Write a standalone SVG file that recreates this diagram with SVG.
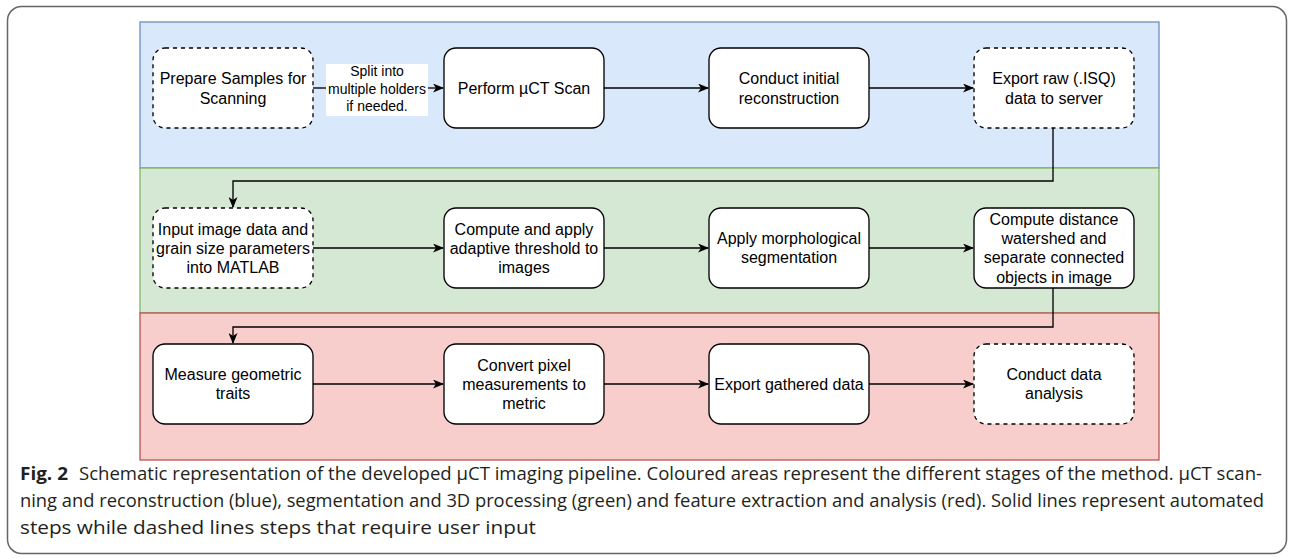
<svg xmlns="http://www.w3.org/2000/svg" width="1290" height="558" viewBox="0 0 1290 558">
  <style>
    .frame { fill: #ffffff; stroke: #666666; stroke-width: 1.5; }
    .band-blue { fill: #dae8fc; stroke: #6c8ebf; stroke-width: 1.3; }
    .band-green { fill: #d5e8d4; stroke: #82b366; stroke-width: 1.3; }
    .band-red { fill: #f8cecc; stroke: #b85450; stroke-width: 1.3; }
    .box { fill: #ffffff; stroke: #000000; stroke-width: 1.33; }
    .dashed { stroke-dasharray: 4 4; }
    .t { font-family: "Liberation Sans", Arial, sans-serif; font-size: 16px; fill: #000000; text-anchor: middle; }
    .lbl { font-family: "Liberation Sans", Arial, sans-serif; font-size: 14px; fill: #000000; text-anchor: middle; }
    .edge { fill: none; stroke: #000000; stroke-width: 1.33; }
    .cap { font-family: "Open Sans", "Noto Sans", sans-serif; font-size: 18px; fill: #231f20; }
    .capb { font-family: "Open Sans", "Noto Sans", sans-serif; font-size: 18px; font-weight: bold; fill: #231f20; }
  </style>
  <defs>
    <marker id="arr" markerWidth="11" markerHeight="9" refX="10" refY="4.5" orient="auto" markerUnits="userSpaceOnUse">
      <path d="M0,0 L11,4.5 L0,9 L3,4.5 Z" fill="#000000"/>
    </marker>
  </defs>

  <rect class="frame" x="7.5" y="6.5" width="1279" height="547" rx="14"/>

  <g id="bands">
    <rect class="band-blue" x="140" y="22" width="1019" height="146"/>
    <rect class="band-green" x="140" y="168" width="1019" height="145"/>
    <rect class="band-red" x="140" y="313" width="1019" height="147"/>
  </g>

  <g id="connectors">
    <path class="edge" d="M313,88 H326"/>
    <path class="edge" d="M428,88 H443" marker-end="url(#arr)"/>
    <path class="edge" d="M604,88 H708" marker-end="url(#arr)"/>
    <path class="edge" d="M869,88 H973" marker-end="url(#arr)"/>
    <path class="edge" d="M1053,128 V181 H233 V207" marker-end="url(#arr)"/>
    <path class="edge" d="M313,248 H443" marker-end="url(#arr)"/>
    <path class="edge" d="M604,248 H708" marker-end="url(#arr)"/>
    <path class="edge" d="M869,248 H973" marker-end="url(#arr)"/>
    <path class="edge" d="M1053,288 V327 H233 V343" marker-end="url(#arr)"/>
    <path class="edge" d="M313,384 H443" marker-end="url(#arr)"/>
    <path class="edge" d="M604,384 H708" marker-end="url(#arr)"/>
    <path class="edge" d="M869,384 H973" marker-end="url(#arr)"/>
    <g id="label-split">
      <rect x="326" y="64" width="102" height="52" fill="#ffffff"/>
      <text class="lbl" x="377" y="76">Split into</text>
      <text class="lbl" x="377" y="94">multiple holders</text>
      <text class="lbl" x="377" y="111">if needed.</text>
    </g>
  </g>

  <g id="n-prepare">
    <rect class="box dashed" x="153" y="48" width="160" height="80" rx="12"/>
    <text class="t" x="233" y="84">Prepare Samples for</text>
    <text class="t" x="233" y="103.5">Scanning</text>
  </g>
  <g id="n-scan">
    <rect class="box" x="444" y="48" width="160" height="80" rx="12"/>
    <text class="t" x="524" y="93.7">Perform µCT Scan</text>
  </g>
  <g id="n-recon">
    <rect class="box" x="709" y="48" width="160" height="80" rx="12"/>
    <text class="t" x="789" y="84">Conduct initial</text>
    <text class="t" x="789" y="103.5">reconstruction</text>
  </g>
  <g id="n-export-raw">
    <rect class="box dashed" x="974" y="48" width="160" height="80" rx="12"/>
    <text class="t" x="1054" y="84">Export raw (.ISQ)</text>
    <text class="t" x="1054" y="103.5">data to server</text>
  </g>

  <g id="n-input">
    <rect class="box dashed" x="153" y="208" width="160" height="80" rx="12"/>
    <text class="t" x="233" y="234.5">Input image data and</text>
    <text class="t" x="233" y="253.7">grain size parameters</text>
    <text class="t" x="233" y="272.9">into MATLAB</text>
  </g>
  <g id="n-threshold">
    <rect class="box" x="444" y="208" width="160" height="80" rx="12"/>
    <text class="t" x="524" y="234.5">Compute and apply</text>
    <text class="t" x="524" y="253.7">adaptive threshold to</text>
    <text class="t" x="524" y="272.9">images</text>
  </g>
  <g id="n-morph">
    <rect class="box" x="709" y="208" width="160" height="80" rx="12"/>
    <text class="t" x="789" y="244">Apply morphological</text>
    <text class="t" x="789" y="263.2">segmentation</text>
  </g>
  <g id="n-watershed">
    <rect class="box" x="974" y="208" width="160" height="80" rx="12"/>
    <text class="t" x="1054" y="224.9">Compute distance</text>
    <text class="t" x="1054" y="244.1">watershed and</text>
    <text class="t" x="1054" y="263.3">separate connected</text>
    <text class="t" x="1054" y="282.5">objects in image</text>
  </g>

  <g id="n-measure">
    <rect class="box" x="153" y="344" width="160" height="80" rx="12"/>
    <text class="t" x="233" y="380">Measure geometric</text>
    <text class="t" x="233" y="399.2">traits</text>
  </g>
  <g id="n-convert">
    <rect class="box" x="444" y="344" width="160" height="80" rx="12"/>
    <text class="t" x="524" y="370.5">Convert pixel</text>
    <text class="t" x="524" y="389.7">measurements to</text>
    <text class="t" x="524" y="408.9">metric</text>
  </g>
  <g id="n-export-data">
    <rect class="box" x="709" y="344" width="160" height="80" rx="12"/>
    <text class="t" x="789" y="389.7">Export gathered data</text>
  </g>
  <g id="n-analysis">
    <rect class="box dashed" x="974" y="344" width="160" height="80" rx="12"/>
    <text class="t" x="1054" y="380">Conduct data</text>
    <text class="t" x="1054" y="399.2">analysis</text>
  </g>

  <g id="caption">
    <text class="capb" x="20" y="480" textLength="48" lengthAdjust="spacingAndGlyphs">Fig. 2</text>
    <text class="cap" x="79" y="480" textLength="1183" lengthAdjust="spacingAndGlyphs">Schematic representation of the developed µCT imaging pipeline. Coloured areas represent the different stages of the method. µCT scan-</text>
    <text class="cap" x="20" y="507" textLength="1244" lengthAdjust="spacingAndGlyphs">ning and reconstruction (blue), segmentation and 3D processing (green) and feature extraction and analysis (red). Solid lines represent automated</text>
    <text class="cap" x="20" y="534" textLength="516" lengthAdjust="spacingAndGlyphs">steps while dashed lines steps that require user input</text>
  </g>
</svg>
